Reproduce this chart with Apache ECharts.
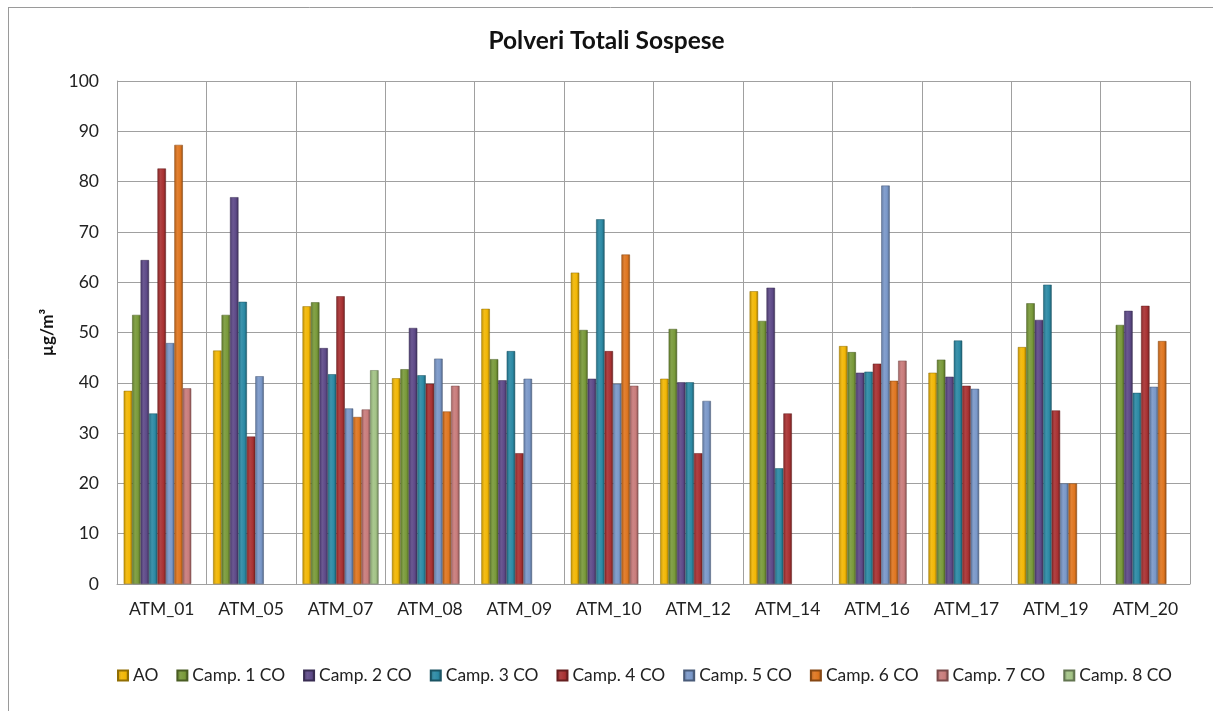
<!DOCTYPE html>
<html>
<head>
<meta charset="utf-8">
<script src="https://cdn.jsdelivr.net/npm/echarts@6/dist/echarts.min.js"></script>
<style>
html,body{margin:0;padding:0;background:#fff;}
#chart{width:1213px;height:711px;}
</style>
</head>
<body>
<div id="chart"></div>
<script>
const categories = ['ATM_01','ATM_05','ATM_07','ATM_08','ATM_09','ATM_10','ATM_12','ATM_14','ATM_16','ATM_17','ATM_19','ATM_20'];
const seriesNames = ['AO','Camp. 1 CO','Camp. 2 CO','Camp. 3 CO','Camp. 4 CO','Camp. 5 CO','Camp. 6 CO','Camp. 7 CO','Camp. 8 CO'];
const AO    = [38.4, 46.4, 55.2, 40.9, 54.7, 61.9, 40.8, 58.2, 47.3, 42.0, 47.1, null];
const camp1 = [53.5, 53.5, 56.0, 42.7, 44.7, 50.5, 50.7, 52.3, 46.1, 44.6, 55.8, 51.5];
const camp2 = [64.4, 76.9, 46.9, 50.9, 40.5, 40.8, 40.1, 58.9, 42.0, 41.2, 52.5, 54.3];
const camp3 = [33.9, 56.1, 41.7, 41.5, 46.3, 72.5, 40.1, 23.0, 42.2, 48.4, 59.5, 38.0];
const camp4 = [82.6, 29.3, 57.2, 39.8, 26.0, 46.3, 26.0, 33.9, 43.8, 39.4, 34.5, 55.3];
const camp5 = [47.9, 41.3, 34.9, 44.8, 40.8, 39.8, 36.4, null, 79.2, 38.8, 20.0, 39.2];
const camp6 = [87.3, null, 33.2, 34.3, null, 65.5, null, null, 40.4, null, 20.0, 48.3];
const camp7 = [38.9, null, 34.7, 39.4, null, 39.4, null, null, 44.4, null, null, null];
const camp8 = [null, null, 42.5, null, null, null, null, null, null, null, null, null];
const yTicks = [0,10,20,30,40,50,60,70,80,90,100];

const allData = [AO, camp1, camp2, camp3, camp4, camp5, camp6, camp7, camp8];
const colors = ['#F2B705','#799A3A','#5E4A88','#2C8AA5','#A93233','#7A98C9','#DF7620','#C97C7B','#A3C386'];

function shade(hex, f){
  const n = parseInt(hex.slice(1),16);
  let r=(n>>16)&255,g=(n>>8)&255,b=n&255;
  const adj = c => Math.max(0,Math.min(255,Math.round(f<1? c*f : c+(255-c)*(f-1))));
  return 'rgb('+adj(r)+','+adj(g)+','+adj(b)+')';
}
function grad(hex){
  return new echarts.graphic.LinearGradient(0,0,1,0,[
    {offset:0,color:shade(hex,0.8)},
    {offset:0.35,color:shade(hex,1.08)},
    {offset:0.7,color:hex},
    {offset:1,color:shade(hex,0.65)}
  ]);
}

const chart = echarts.init(document.getElementById('chart'), null, {renderer:'canvas'});
const font = 'Lato, "Open Sans", sans-serif';
const option = {
  animation:false,
  backgroundColor:'#fff',
  title:{
    text:'Polveri Totali Sospese',
    left:'center', top:24,
    textStyle:{fontFamily:font,fontSize:24.5,fontWeight:'bold',color:'#111'}
  },
  graphic:[
    {type:'line',shape:{x1:8.5,y1:8,x2:8.5,y2:711},style:{stroke:'#9a9a9a',lineWidth:1}},
    {type:'line',shape:{x1:8,y1:7.5,x2:1213,y2:7.5},style:{stroke:'#9a9a9a',lineWidth:1}}
  ],
  legend:{
    data:seriesNames,
    left:112, top:662,
    icon:'rect', itemWidth:10, itemHeight:10, itemGap:18,
    textStyle:{fontFamily:font,fontSize:17.4,color:'#222'}
  },
  grid:{left:117,right:23,top:81,bottom:127,containLabel:false},
  xAxis:{
    type:'category',
    data:categories,
    axisLine:{show:true,lineStyle:{color:'#a0a0a0'}},
    axisTick:{show:false},
    splitLine:{show:true,lineStyle:{color:'#a0a0a0',width:1}},
    axisLabel:{fontFamily:font,fontSize:17.5,color:'#222',margin:16}
  },
  yAxis:{
    type:'value',
    min:yTicks[0], max:yTicks[yTicks.length-1], interval:yTicks[1]-yTicks[0],
    name:'µg/m³',
    nameLocation:'middle', nameGap:61, nameRotate:90,
    nameTextStyle:{fontFamily:font,fontSize:17,fontWeight:'bold',color:'#111'},
    axisLine:{show:true,lineStyle:{color:'#a0a0a0'}},
    axisTick:{show:false},
    splitLine:{show:true,lineStyle:{color:'#a0a0a0',width:1}},
    axisLabel:{fontFamily:font,fontSize:17.5,color:'#222',margin:18}
  },
  series: seriesNames.map((name,i)=>({
    name:name,
    type:'bar',
    data:allData[i],
    barGap:'0%',
    barCategoryGap:'15%',
    itemStyle:{color:grad(colors[i]),borderColor:shade(colors[i],0.6),borderWidth:0.5},
    emphasis:{disabled:true}
  }))
};
chart.setOption(option);
</script>
</body>
</html>
